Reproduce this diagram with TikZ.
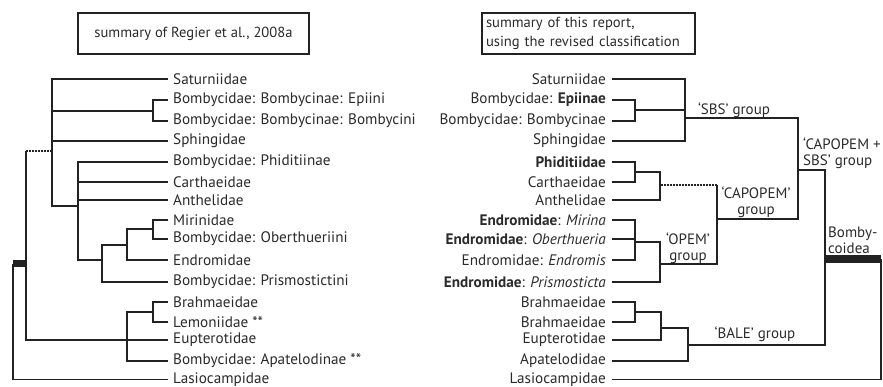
\documentclass[tikz,border=0pt]{standalone}
\usepackage{fontspec}
\setmainfont{PT Sans}
\definecolor{ink}{HTML}{222222}
\definecolor{txt}{HTML}{2b2b2b}
\begin{document}
\begin{tikzpicture}[x=1pt,y=-1pt,
  br/.style={draw=ink,line width=1.9pt,line join=miter},
  dots/.style={draw=ink,line width=1.9pt,dash pattern=on 1.6pt off 1.4pt},
  heavy/.style={draw=ink,line width=7pt},
  ll/.style={anchor=west,inner xsep=5pt,inner ysep=0pt,text=txt,font=\fontsize{15.2}{17}\selectfont},
  rl/.style={anchor=east,inner xsep=6pt,inner ysep=0pt,text=txt,font=\fontsize{15.2}{17}\selectfont},
  grp/.style={inner sep=0pt,text=txt,font=\fontsize{15}{16}\selectfont},
  hdr/.style={draw=ink,line width=1.2pt,inner sep=0pt,text=txt,font=\fontsize{14.6}{19}\selectfont}]
\useasboundingbox (0,0) rectangle (883,387);
\fill[white] (0,0) rectangle (883,387);

% header boxes
\node[hdr,minimum width=231pt,minimum height=41pt] (h1) at (193.5,33.5) {summary of Regier et al., 2008a};
\node[hdr,minimum width=213pt,minimum height=41pt,align=left,text width=205pt] (h2) at (588.5,33.5) {summary of this report,\\using the revised classification};

% left labels
\node[ll] (la1) at (168,79) {Saturniidae};
\node[ll] (la2) at (168,100) {Bombycidae: Bombycinae: Epiini};
\node[ll] (la3) at (168,121) {Bombycidae: Bombycinae: Bombycini};
\node[ll] (la4) at (168,141) {Sphingidae};
\node[ll] (la5) at (168,162) {Bombycidae: Phiditiinae};
\node[ll] (la6) at (168,182) {Carthaeidae};
\node[ll] (la7) at (168,200) {Anthelidae};
\node[ll] (la8) at (168,220) {Mirinidae};
\node[ll] (la9) at (168,239) {Bombycidae: Oberthueriini};
\node[ll] (la10) at (168,260) {Endromidae};
\node[ll] (la11) at (168,282) {Bombycidae: Prismostictini};
\node[ll] (la12) at (168,302) {Brahmaeidae};
\node[ll] (la13) at (168,322) {Lemoniidae **};
\node[ll] (la14) at (168,340) {Eupterotidae};
\node[ll] (la15) at (168,361) {Bombycidae: Apatelodinae **};
\node[ll] (la16) at (168,379.5) {Lasiocampidae};

% left internal nodes
\coordinate (lA) at (153,111);
\coordinate (lT) at (52,151);
\coordinate (lP) at (78,206);
\coordinate (lO) at (102,260);
\coordinate (lM) at (127,245);
\coordinate (lMO) at (153,229);
\coordinate (lB) at (127,340);
\coordinate (lBL) at (153,312);
\coordinate (lX) at (26,264);
\coordinate (lXd) at (26,151);
\coordinate (lR) at (13,264);

\draw[br] (lA) |- (la2.west);
\draw[br] (lA) |- (la3.west);
\draw[br] (lT) |- (la1.west);
\draw[br] (lT) |- (lA);
\draw[br] (lT) |- (la4.west);
\draw[br] (lT) |- (lP);
\draw[br] (lP) |- (la5.west);
\draw[br] (lP) |- (la6.west);
\draw[br] (lP) |- (la7.west);
\draw[br] (lP) |- (lO);
\draw[br] (lO) |- (lM);
\draw[br] (lO) |- (la11.west);
\draw[br] (lM) |- (lMO);
\draw[br] (lM) |- (la10.west);
\draw[br] (lMO) |- (la8.west);
\draw[br] (lMO) |- (la9.west);
\draw[br] (lBL) |- (la12.west);
\draw[br] (lBL) |- (la13.west);
\draw[br] (lB) |- (lBL);
\draw[br] (lB) |- (la14.west);
\draw[br] (lB) |- (la15.west);
\draw[br] (lX) -- (lXd);
\draw[dots] (lXd) -- (lT);
\draw[br] (lX) |- (lB);
\draw[heavy] (lR) -- (lX);
\draw[br] (lR) |- (la16.west);

% right labels
\node[rl] (rb1) at (612,79) {Saturniidae};
\node[rl] (rb2) at (612,100) {Bombycidae: \textbf{Epiinae}};
\node[rl] (rb3) at (612,121) {Bombycidae: Bombycinae};
\node[rl] (rb4) at (612,141) {Sphingidae};
\node[rl] (rb5) at (612,162) {\textbf{Phiditiidae}};
\node[rl] (rb6) at (612,182) {Carthaeidae};
\node[rl] (rb7) at (612,200) {Anthelidae};
\node[rl] (rb8) at (612,220) {\textbf{Endromidae}: \textit{Mirina}};
\node[rl] (rb9) at (612,239) {\textbf{Endromidae}: \textit{Oberthueria}};
\node[rl] (rb10) at (612,260) {Endromidae: \textit{Endromis}};
\node[rl] (rb11) at (612,282) {\textbf{Endromidae}: \textit{Prismosticta}};
\node[rl] (rb12) at (612,302) {Brahmaeidae};
\node[rl] (rb13) at (612,322) {Brahmaeidae};
\node[rl] (rb14) at (612,340) {Eupterotidae};
\node[rl] (rb15) at (612,361) {Apatelodidae};
\node[rl] (rb16) at (612,379.5) {Lasiocampidae};

% right internal nodes
\coordinate (rEB) at (635,110);
\coordinate (rSBS) at (685,118);
\coordinate (rPC) at (635,172);
\coordinate (rPCA) at (660,185);
\coordinate (rO3) at (635,242);
\coordinate (rOPEM) at (660,264);
\coordinate (rCAP) at (717,219);
\coordinate (rCAPd) at (717,185);
\coordinate (rCS) at (798,170);
\coordinate (rBB) at (635,312);
\coordinate (rBBE) at (661,328);
\coordinate (rBALE) at (688,345);
\coordinate (rBomb) at (825,259);
\coordinate (rRoot) at (881,259);

\draw[br] (rEB) |- (rb2.east);
\draw[br] (rEB) |- (rb3.east);
\draw[br] (rSBS) |- (rb1.east);
\draw[br] (rSBS) |- (rEB);
\draw[br] (rSBS) |- (rb4.east);
\draw[br] (rPC) |- (rb5.east);
\draw[br] (rPC) |- (rb6.east);
\draw[br] (rPCA) |- (rPC);
\draw[br] (rPCA) |- (rb7.east);
\draw[br] (rO3) |- (rb8.east);
\draw[br] (rO3) |- (rb9.east);
\draw[br] (rO3) |- (rb10.east);
\draw[br] (rOPEM) |- (rO3);
\draw[br] (rOPEM) |- (rb11.east);
\draw[br] (rCAP) -- (rCAPd);
\draw[dots] (rCAPd) -- (rPCA);
\draw[br] (rCAP) |- (rOPEM);
\draw[br] (rCS) |- (rSBS);
\draw[br] (rCS) |- (rCAP);
\draw[br] (rBB) |- (rb12.east);
\draw[br] (rBB) |- (rb13.east);
\draw[br] (rBBE) |- (rBB);
\draw[br] (rBBE) |- (rb14.east);
\draw[br] (rBALE) |- (rBBE);
\draw[br] (rBALE) |- (rb15.east);
\draw[br] (rBomb) |- (rCS);
\draw[br] (rBomb) |- (rBALE);
\draw[line width=8pt,draw=ink] (rBomb) -- (rRoot);
\draw[br] (rRoot) |- (rb16.east);

% group labels
\node[grp] (gsbs) at (734,110) {`SBS' group};
\node[grp,align=center] (gcap) at (756,202) {`CAPOPEM'\\group};
\node[grp,align=center] (gopem) at (688,248) {`OPEM'\\group};
\node[grp] (gbale) at (755,334) {`BALE' group};
\node[grp,align=left,anchor=west] (gcs) at (803,153) {`CAPOPEM +\\SBS' group};
\node[grp,align=left,anchor=west] (gbomb) at (828,240) {Bomby-\\coidea};
\end{tikzpicture}
\end{document}
